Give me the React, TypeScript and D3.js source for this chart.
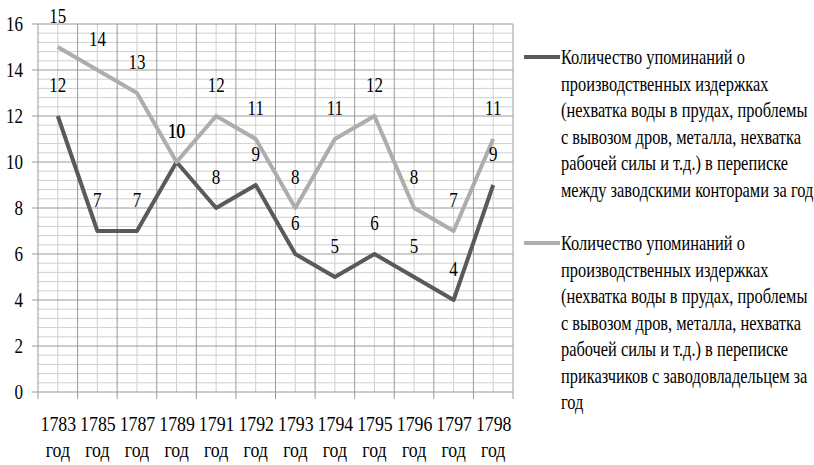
import React from "react";
import * as d3 from "d3";

const years = ["1783", "1785", "1787", "1789", "1791", "1792", "1793", "1794", "1795", "1796", "1797", "1798"];
const yearSuffix = "год";
const officesSeries = [12, 7, 7, 10, 8, 9, 6, 5, 6, 5, 4, 9];
const clerksSeries = [15, 14, 13, 10, 12, 11, 8, 11, 12, 8, 7, 11];
const yTicks = [0, 2, 4, 6, 8, 10, 12, 14, 16];
const legendOffices = [
  "Количество упоминаний о",
  "производственных издержках",
  "(нехватка воды в прудах, проблемы",
  "с вывозом дров, металла, нехватка",
  "рабочей силы и т.д.) в переписке",
  "между заводскими конторами за год",
];
const legendClerks = [
  "Количество упоминаний о",
  "производственных издержках",
  "(нехватка воды в прудах, проблемы",
  "с вывозом дров, металла, нехватка",
  "рабочей силы и т.д.) в переписке",
  "приказчиков с заводовладельцем за",
  "год",
];

const W = 814;
const H = 465;
const left = 38;
const right = 513;
const top = 24;
const bottom = 392;
const DARK = "#5a5a5a";
const LIGHT = "#adadad";
const FONT_LIST = '"Liberation Serif", Tinos, "Times New Roman", "Nimbus Roman", FreeSerif, serif';

export default function App() {
  const x = d3.scaleBand<string>().domain(years).range([left, right]).padding(0);
  const y = d3.scaleLinear().domain([0, 16]).range([bottom, top]);
  const cx = (d: string) => (x(d) as number) + x.bandwidth() / 2;

  const minorY = d3.range(0, 16.0001, 0.4).filter((v) => Math.abs(v / 2 - Math.round(v / 2)) > 1e-6);

  const line = d3
    .line<number>()
    .x((_, i) => cx(years[i]))
    .y((v) => y(v));

  const textAt = (tx: number, ty: number, s: string, size: number, anchor: string, scale: number, key?: any) => (
    <text
      key={key}
      className="serif-t"
      transform={`translate(${tx},${ty}) scale(${scale},1)`}
      fontSize={size}
      textAnchor={anchor as any}
      style={{ fontFamily: FONT_LIST }}
    >
      {s}
    </text>
  );

  const series = [
    { values: officesSeries, color: DARK, legend: legendOffices, ly: 57 },
    { values: clerksSeries, color: LIGHT, legend: legendClerks, ly: 243 },
  ];

  return (
    <svg width={W} height={H} style={{ position: "absolute", left: 0, top: 0, fontFamily: FONT_LIST }}>
      <style>{`text.serif-t { font-family: ${FONT_LIST} !important; }`}</style>
      <rect x={0} y={0} width={W} height={H} fill="#fff" />
      {minorY.map((v, i) => (
        <line key={"mh" + i} x1={left} x2={right} y1={y(v)} y2={y(v)} stroke="#cfcfcf" strokeWidth={1} />
      ))}
      {years.map((d) => (
        <line key={"mv" + d} x1={cx(d)} x2={cx(d)} y1={top} y2={bottom} stroke="#cfcfcf" strokeWidth={1} />
      ))}
      {years.map((d) => (
        <line key={"Mv" + d} x1={x(d) as number} x2={x(d) as number} y1={top} y2={bottom + 7} stroke="#9a9a9a" strokeWidth={1} />
      ))}
      <line x1={right} x2={right} y1={top} y2={bottom + 7} stroke="#9a9a9a" strokeWidth={1} />
      {yTicks.map((v) => (
        <line key={"Mh" + v} x1={left - 6} x2={right} y1={y(v)} y2={y(v)} stroke="#9a9a9a" strokeWidth={1} />
      ))}
      {series.map((s, si) => (
        <path key={"p" + si} d={line(s.values) as string} fill="none" stroke={s.color} strokeWidth={4} strokeLinejoin="round" />
      ))}
      {series.map((s, si) => (
        <line key={"ll" + si} x1={524} x2={560} y1={s.ly} y2={s.ly} stroke={s.color} strokeWidth={4} />
      ))}
      {yTicks.map((v) => textAt(23, y(v) + 7, String(v), 20, "end", 0.85, "yl" + v))}
      {years.map((d) => textAt(cx(d) + 0.5, 431, d, 22, "middle", 0.81, "xl" + d))}
      {years.map((d) => textAt(cx(d), 457, yearSuffix, 22, "middle", 0.81, "xs" + d))}
      {series.map((s, si) =>
        s.values.map((v, i) => textAt(cx(years[i]), y(v) - 24, String(v), 20, "middle", 0.85, `dl${si}-${i}`))
      )}
      {series.map((s, si) => s.legend.map((t, li) => textAt(561, s.ly + 7 + li * 26.5, t, 21, "start", 0.78, `lt${si}-${li}`)))}
    </svg>
  );
}
